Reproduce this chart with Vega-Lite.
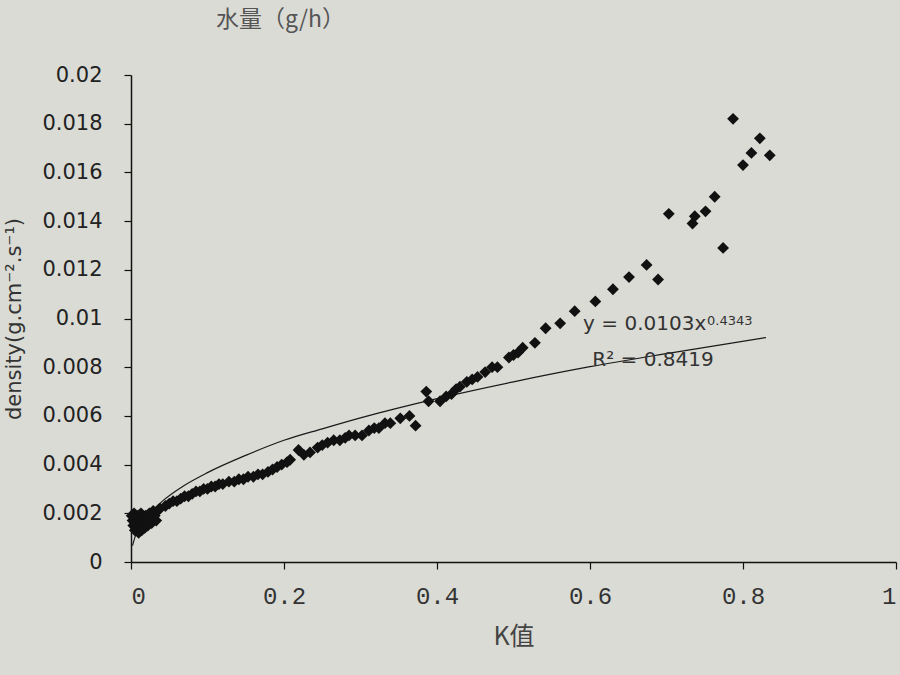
{
  "$schema": "https://vega.github.io/schema/vega-lite/v6.json",
  "autosize": {"type": "none"},
  "padding": {"left": 131, "top": 75, "right": 4, "bottom": 113},
  "width": 765,
  "height": 487,
  "background": "#dadbd5",
  "config": {"view": {"stroke": null}},
  "title": {"text": "水量（g/h）", "anchor": "start", "dx": 212, "offset": 32, "fontSize": 23, "font": "Noto Sans CJK SC", "fontWeight": "normal", "color": "#555"},
  "datasets": {
    "pts": [
      {"k": 0.001, "d": 0.0019}, {"k": 0.002, "d": 0.0017}, {"k": 0.003, "d": 0.0015}, {"k": 0.004, "d": 0.002}, {"k": 0.005, "d": 0.0013},
      {"k": 0.006, "d": 0.0018}, {"k": 0.007, "d": 0.0016}, {"k": 0.008, "d": 0.0014}, {"k": 0.009, "d": 0.0019}, {"k": 0.01, "d": 0.0012},
      {"k": 0.011, "d": 0.0017}, {"k": 0.012, "d": 0.0015}, {"k": 0.013, "d": 0.002}, {"k": 0.014, "d": 0.0013}, {"k": 0.015, "d": 0.0018},
      {"k": 0.016, "d": 0.0016}, {"k": 0.018, "d": 0.0014}, {"k": 0.019, "d": 0.0019}, {"k": 0.02, "d": 0.0017}, {"k": 0.022, "d": 0.0015},
      {"k": 0.024, "d": 0.002}, {"k": 0.025, "d": 0.0018}, {"k": 0.027, "d": 0.0016}, {"k": 0.029, "d": 0.0021}, {"k": 0.031, "d": 0.0019},
      {"k": 0.033, "d": 0.0017}, {"k": 0.035, "d": 0.0021}, {"k": 0.038, "d": 0.0022}, {"k": 0.045, "d": 0.0023}, {"k": 0.05, "d": 0.0024},
      {"k": 0.055, "d": 0.0025}, {"k": 0.06, "d": 0.0025}, {"k": 0.065, "d": 0.0026}, {"k": 0.07, "d": 0.0027}, {"k": 0.075, "d": 0.0027},
      {"k": 0.08, "d": 0.0028}, {"k": 0.085, "d": 0.0029}, {"k": 0.09, "d": 0.0029}, {"k": 0.095, "d": 0.003}, {"k": 0.1, "d": 0.003},
      {"k": 0.105, "d": 0.0031}, {"k": 0.11, "d": 0.0031}, {"k": 0.115, "d": 0.0032}, {"k": 0.12, "d": 0.0032}, {"k": 0.128, "d": 0.0033},
      {"k": 0.135, "d": 0.0033}, {"k": 0.141, "d": 0.0034}, {"k": 0.147, "d": 0.0034}, {"k": 0.153, "d": 0.0035}, {"k": 0.16, "d": 0.0035},
      {"k": 0.166, "d": 0.0036}, {"k": 0.172, "d": 0.0036}, {"k": 0.179, "d": 0.0037}, {"k": 0.185, "d": 0.0038}, {"k": 0.191, "d": 0.0039},
      {"k": 0.197, "d": 0.004}, {"k": 0.204, "d": 0.0041}, {"k": 0.208, "d": 0.0042}, {"k": 0.219, "d": 0.0046}, {"k": 0.226, "d": 0.0044},
      {"k": 0.234, "d": 0.0045}, {"k": 0.244, "d": 0.0047}, {"k": 0.25, "d": 0.0048}, {"k": 0.257, "d": 0.0049}, {"k": 0.265, "d": 0.005},
      {"k": 0.273, "d": 0.005}, {"k": 0.28, "d": 0.0051}, {"k": 0.285, "d": 0.0052}, {"k": 0.293, "d": 0.0052}, {"k": 0.302, "d": 0.0052},
      {"k": 0.311, "d": 0.0054}, {"k": 0.318, "d": 0.0055}, {"k": 0.324, "d": 0.0055}, {"k": 0.332, "d": 0.0057}, {"k": 0.339, "d": 0.0057},
      {"k": 0.352, "d": 0.0059}, {"k": 0.364, "d": 0.006}, {"k": 0.372, "d": 0.0056}, {"k": 0.386, "d": 0.007}, {"k": 0.389, "d": 0.0066},
      {"k": 0.404, "d": 0.0066}, {"k": 0.412, "d": 0.0068}, {"k": 0.419, "d": 0.0069}, {"k": 0.425, "d": 0.0071}, {"k": 0.43, "d": 0.0072},
      {"k": 0.439, "d": 0.0074}, {"k": 0.446, "d": 0.0075}, {"k": 0.453, "d": 0.0076}, {"k": 0.463, "d": 0.0078}, {"k": 0.472, "d": 0.008},
      {"k": 0.479, "d": 0.008}, {"k": 0.494, "d": 0.0084}, {"k": 0.5, "d": 0.0085}, {"k": 0.506, "d": 0.0086}, {"k": 0.512, "d": 0.0088},
      {"k": 0.528, "d": 0.009}, {"k": 0.542, "d": 0.0096}, {"k": 0.561, "d": 0.0098}, {"k": 0.58, "d": 0.0103}, {"k": 0.607, "d": 0.0107},
      {"k": 0.63, "d": 0.0112}, {"k": 0.651, "d": 0.0117}, {"k": 0.674, "d": 0.0122}, {"k": 0.689, "d": 0.0116}, {"k": 0.703, "d": 0.0143},
      {"k": 0.734, "d": 0.0139}, {"k": 0.737, "d": 0.0142}, {"k": 0.751, "d": 0.0144}, {"k": 0.763, "d": 0.015}, {"k": 0.774, "d": 0.0129},
      {"k": 0.787, "d": 0.0182}, {"k": 0.8, "d": 0.0163}, {"k": 0.811, "d": 0.0168}, {"k": 0.822, "d": 0.0174}, {"k": 0.835, "d": 0.0167}
    ],
    "fit": [
      {"k": 0.002, "d": 0.00067}, {"k": 0.005, "d": 0.001}, {"k": 0.01, "d": 0.00135}, {"k": 0.02, "d": 0.00183},
      {"k": 0.04, "d": 0.00247}, {"k": 0.07, "d": 0.00315}, {"k": 0.1, "d": 0.00367}, {"k": 0.15, "d": 0.00438},
      {"k": 0.2, "d": 0.005}, {"k": 0.25, "d": 0.00547}, {"k": 0.3, "d": 0.00592}, {"k": 0.4, "d": 0.00671},
      {"k": 0.5, "d": 0.0074}, {"k": 0.6, "d": 0.00802}, {"k": 0.7, "d": 0.00856}, {"k": 0.83, "d": 0.00922}
    ],
    "labels": [
      {"k": 0.591, "d": 0.00977, "t": "y = 0.0103x", "s": 20},
      {"k": 0.753, "d": 0.0099, "t": "0.4343", "s": 13},
      {"k": 0.603, "d": 0.0083, "t": "R² = 0.8419", "s": 20}
    ]
  },
  "layer": [
    {
      "data": {"name": "fit"},
      "mark": {"type": "line", "color": "#1a1a1a", "strokeWidth": 1.2, "interpolate": "monotone"},
      "encoding": {
        "x": {
          "field": "k", "type": "quantitative",
          "scale": {"domain": [0, 1], "nice": false},
          "axis": {
            "title": "K值", "values": [0, 0.2, 0.4, 0.6, 0.8, 1], "format": "~g",
            "labelFont": "Liberation Mono", "labelFontSize": 24, "labelColor": "#333", "labelPadding": 15,
            "tickSize": 7, "tickColor": "#111", "domainColor": "#111", "domainWidth": 1.5, "tickWidth": 1.2, "grid": false,
            "titleFont": "Noto Sans CJK SC", "titleFontSize": 25, "titleFontWeight": "normal", "titleColor": "#444", "titlePadding": 16
          }
        },
        "y": {
          "field": "d", "type": "quantitative",
          "scale": {"domain": [0, 0.02], "nice": false},
          "axis": {
            "title": "density(g.cm⁻².s⁻¹)",
            "values": [0, 0.002, 0.004, 0.006, 0.008, 0.01, 0.012, 0.014, 0.016, 0.018, 0.02],
            "format": "~g",
            "labelFont": "DejaVu Sans", "labelFontSize": 21, "labelColor": "#222", "labelPadding": 22,
            "tickSize": 7, "tickColor": "#111", "domainColor": "#111", "domainWidth": 1.5, "tickWidth": 1.2, "grid": false,
            "titleFont": "DejaVu Sans", "titleFontSize": 21, "titleFontWeight": "normal", "titleColor": "#333", "titlePadding": 17
          }
        }
      }
    },
    {
      "data": {"name": "pts"},
      "mark": {"type": "point", "shape": "diamond", "filled": true, "color": "#111", "opacity": 1, "size": 140},
      "encoding": {
        "x": {"field": "k", "type": "quantitative"},
        "y": {"field": "d", "type": "quantitative"}
      }
    },
    {
      "data": {"name": "labels"},
      "mark": {"type": "text", "align": "left", "baseline": "middle", "font": "DejaVu Sans", "color": "#333"},
      "encoding": {
        "x": {"field": "k", "type": "quantitative"},
        "y": {"field": "d", "type": "quantitative"},
        "text": {"field": "t"},
        "size": {"field": "s", "type": "quantitative", "scale": null}
      }
    }
  ]
}
